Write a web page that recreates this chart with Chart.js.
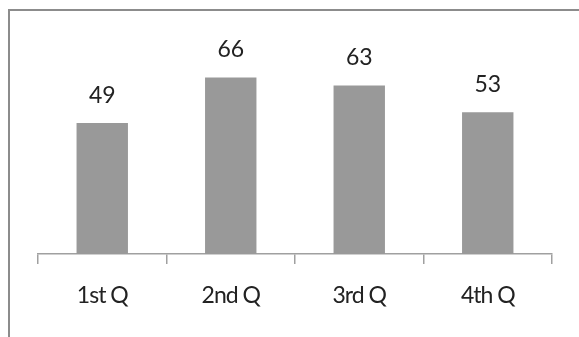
<!DOCTYPE html>
<html>
<head>
<meta charset="utf-8">
<script src="https://cdn.jsdelivr.net/npm/chart.js@4/dist/chart.umd.min.js"></script>
<style>
  html, body { margin: 0; padding: 0; background: #ffffff; }
  #wrap { width: 579px; height: 337px; position: relative; }
</style>
</head>
<body>
<div id="wrap"><canvas id="c" width="579" height="337"></canvas></div>
<script>
// Quarterly values
const categories = ['1st Q', '2nd Q', '3rd Q', '4th Q'];
const values = [49, 66, 63, 53];

const FONT = 'Lato, "Open Sans", sans-serif';

// Outer chart frame (only top and left edges fall inside the canvas)
const framePlugin = {
  id: 'frame',
  beforeDraw(chart) {
    const ctx = chart.ctx;
    ctx.save();
    ctx.fillStyle = '#ffffff';
    ctx.fillRect(0, 0, chart.width, chart.height);
    ctx.strokeStyle = '#8c8c8c';
    ctx.lineWidth = 2;
    ctx.strokeRect(9, 10, 1000, 1000);
    ctx.restore();
    // tighter spacing for the category labels
    ctx.letterSpacing = '-1px';
  }
};

// Value labels above each bar
const valueLabels = {
  id: 'valueLabels',
  afterDraw(chart) {
    const ctx = chart.ctx;
    const meta = chart.getDatasetMeta(0);
    ctx.save();
    ctx.letterSpacing = '0px';
    ctx.font = '23px ' + FONT;
    ctx.fillStyle = '#222222';
    ctx.textAlign = 'center';
    ctx.textBaseline = 'alphabetic';
    meta.data.forEach((bar, i) => {
      ctx.fillText(String(values[i]), bar.x, bar.y - 20);
    });
    ctx.restore();
  }
};

new Chart(document.getElementById('c'), {
  type: 'bar',
  data: {
    labels: categories,
    datasets: [{
      data: values,
      backgroundColor: '#999999',
      borderWidth: 0,
      barPercentage: 0.4,
      categoryPercentage: 1.0
    }]
  },
  options: {
    responsive: false,
    animation: false,
    devicePixelRatio: 1,
    layout: { padding: { left: 38, right: 27, top: 40, bottom: 0 } },
    plugins: { legend: { display: false }, tooltip: { enabled: false } },
    scales: {
      x: {
        offset: true,
        grid: {
          offset: true,
          drawOnChartArea: false,
          drawTicks: true,
          tickLength: 10,
          color: '#a0a0a0',
          lineWidth: 1.5
        },
        border: { display: true, color: '#a0a0a0', width: 1.5 },
        ticks: {
          color: '#222222',
          font: { family: FONT, size: 23 },
          padding: 18,
          maxRotation: 0
        },
        afterFit(scale) { scale.height = 337 - 254; }
      },
      y: {
        display: false,
        min: 0,
        max: 80
      }
    }
  },
  plugins: [framePlugin, valueLabels]
});
</script>
</body>
</html>
